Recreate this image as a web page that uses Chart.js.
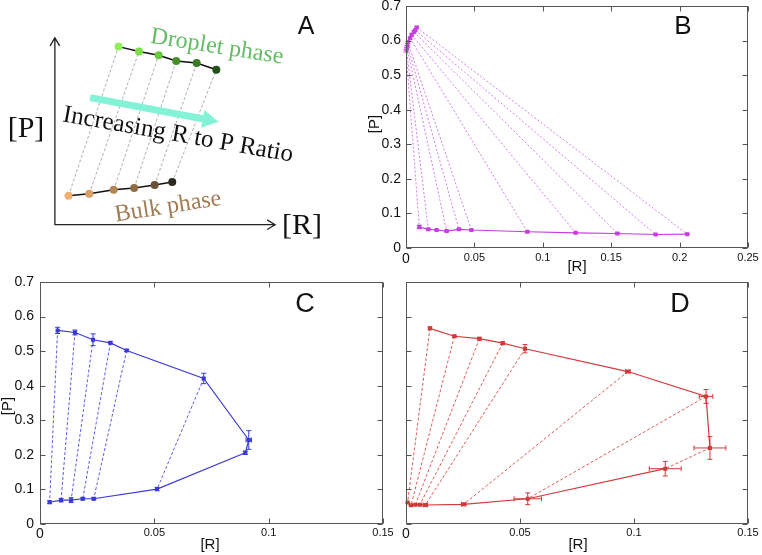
<!DOCTYPE html>
<html><head><meta charset="utf-8">
<script src="https://cdn.jsdelivr.net/npm/chart.js@4.4.1/dist/chart.umd.min.js"></script>
<style>
html,body{margin:0;padding:0;background:#fff;}
#wrap{position:relative;width:762px;height:555px;overflow:hidden;background:#fff;}
#wrap canvas{position:absolute;}
</style></head>
<body><div id="wrap">
<canvas id="cA"></canvas><canvas id="cB"></canvas><canvas id="cC"></canvas><canvas id="cD"></canvas>
</div>
<script>
// ================= DATA =================
// Panel A – schematic (arbitrary units, axes run 0..10)
const A_dropR = [2.89, 3.82, 4.71, 5.51, 6.44, 7.33];
const A_dropP = [9.53, 9.27, 9.07, 8.76, 8.65, 8.29];
const A_bulkR = [0.62, 1.56, 2.67, 3.60, 4.53, 5.33];
const A_bulkP = [1.55, 1.66, 1.87, 1.97, 2.12, 2.28];
const A_arrowR = [1.6, 7.0];
const A_arrowP = [6.8, 5.6];
const A_dropColors = ['#8ff05a', '#7ddd4a', '#66c83c', '#458f2d', '#3a7a26', '#254f1a'];
const A_bulkColors = ['#f0b070', '#d9a064', '#b28658', '#8f6c45', '#6a5238', '#2e2a22'];

// Panel B
const B_dropR = [0.0000, 0.0003, 0.0006, 0.0010, 0.0014, 0.0030, 0.0042, 0.0058, 0.0068, 0.0078];
const B_dropP = [0.570, 0.576, 0.582, 0.588, 0.595, 0.607, 0.617, 0.625, 0.630, 0.638];
const B_bulkR = [0.0097, 0.0163, 0.0224, 0.0297, 0.0387, 0.0478, 0.0887, 0.1240, 0.1545, 0.1825, 0.2056];
const B_bulkP = [0.061, 0.054, 0.052, 0.049, 0.054, 0.052, 0.047, 0.044, 0.042, 0.039, 0.040];
const B_bulkErr = [0.005, 0.002, 0.001, 0.002, 0.002, 0.001, 0.002, 0.001, 0.002, 0.001, 0.001];
const B_ties = [[0,0],[1,1],[2,3],[3,4],[4,5],[5,6],[6,7],[7,8],[8,9],[9,10]];

// Panel C
const C_dropR = [0.0077, 0.0153, 0.0232, 0.0308, 0.0379, 0.0716, 0.0913];
const C_dropP = [0.560, 0.554, 0.533, 0.524, 0.502, 0.421, 0.243];
const C_dropErrP = [0.009, 0.007, 0.017, 0.003, 0.003, 0.015, 0.027];
const C_dropErrR = [0, 0, 0, 0, 0, 0, 0.0012];
const C_bulkR = [0.0042, 0.0092, 0.0136, 0.0187, 0.0235, 0.0512, 0.0898];
const C_bulkP = [0.063, 0.069, 0.069, 0.073, 0.073, 0.101, 0.206];
const C_bulkErrP = [0.004, 0.005, 0.007, 0.003, 0.003, 0.005, 0.005];
const C_ties = [[0,0],[1,1],[2,2],[3,3],[4,4],[5,5]];

// Panel D
const D_dropR = [0.0105, 0.0212, 0.0322, 0.0424, 0.0522, 0.0973, 0.1316, 0.1333];
const D_dropP = [0.566, 0.543, 0.536, 0.523, 0.507, 0.441, 0.369, 0.220];
const D_dropErrP = [0.004, 0.003, 0.004, 0.004, 0.012, 0.003, 0.020, 0.033];
const D_dropErrR = [0, 0, 0, 0, 0, 0.001, 0.003, 0.007];
const D_bulkR = [0.0007, 0.0022, 0.0041, 0.0061, 0.0085, 0.0253, 0.0534, 0.1137];
const D_bulkP = [0.062, 0.054, 0.056, 0.056, 0.055, 0.057, 0.073, 0.160];
const D_bulkErrP = [0.002, 0.002, 0.002, 0.002, 0.003, 0.002, 0.017, 0.021];
const D_bulkErrR = [0, 0, 0, 0, 0.001, 0.001, 0.006, 0.007];
const D_ties = [[0,0],[1,1],[2,2],[3,3],[4,4],[5,5],[6,6],[7,7]];

// Tick settings
const R_TICKS_B = {min: 0, max: 0.25, step: 0.05};
const R_TICKS_CD = {min: 0, max: 0.15, step: 0.05};
const P_TICKS = {min: 0, max: 0.7, step: 0.1};

// ================= HELPERS =================
Chart.defaults.font.family = "'Liberation Sans', Arial, sans-serif";
Chart.defaults.animation = false;
const SANS = "'Liberation Sans', Arial, sans-serif";
const SERIF = "'Liberation Serif', 'Times New Roman', serif";

const pts = (R, P) => R.map((r, i) => ({x: r, y: P[i]}));
const fmt = v => String(+Number(v).toFixed(3));

function tieSets(dR, dP, bR, bP, pairs, color, dash, width) {
  return pairs.map(([d, b]) => ({
    data: [{x: dR[d], y: dP[d]}, {x: bR[b], y: bP[b]}],
    showLine: true, borderColor: color, borderWidth: width, borderDash: dash,
    pointRadius: 0, order: 5
  }));
}

const EXTRA = {};

const decor = {
  id: 'decor',
  afterDatasetsDraw(chart) {
    const ex = EXTRA[chart.canvas.id] || {};
    const ctx = chart.ctx, ca = chart.chartArea;
    const xs = chart.scales.x, ys = chart.scales.y;
    chart.data.datasets.forEach(ds => {
      if (ds.errY || ds.errX) {
        ctx.save();
        ctx.strokeStyle = ds.borderColor; ctx.lineWidth = 1;
        ds.data.forEach((p, j) => {
          const px = xs.getPixelForValue(p.x), py = ys.getPixelForValue(p.y);
          const ey = ds.errY ? ds.errY[j] : 0, exx = ds.errX ? ds.errX[j] : 0;
          const c = 2.5;
          ctx.beginPath();
          if (ey > 0) {
            const y1 = ys.getPixelForValue(p.y - ey), y2 = ys.getPixelForValue(p.y + ey);
            ctx.moveTo(px, y1); ctx.lineTo(px, y2);
            ctx.moveTo(px - c, y1); ctx.lineTo(px + c, y1);
            ctx.moveTo(px - c, y2); ctx.lineTo(px + c, y2);
          }
          if (exx > 0) {
            const x1 = xs.getPixelForValue(p.x - exx), x2 = xs.getPixelForValue(p.x + exx);
            ctx.moveTo(x1, py); ctx.lineTo(x2, py);
            ctx.moveTo(x1, py - c); ctx.lineTo(x1, py + c);
            ctx.moveTo(x2, py - c); ctx.lineTo(x2, py + c);
          }
          ctx.stroke();
        });
        ctx.restore();
      }
      if (ds.arrowHead) {
        const n = ds.data.length;
        const a = ds.data[n - 2], b = ds.data[n - 1];
        const x1 = xs.getPixelForValue(a.x), y1 = ys.getPixelForValue(a.y);
        const x2 = xs.getPixelForValue(b.x), y2 = ys.getPixelForValue(b.y);
        const ang = Math.atan2(y2 - y1, x2 - x1);
        const L = 16, W = 9;
        ctx.save();
        ctx.fillStyle = ds.borderColor;
        ctx.translate(x2, y2); ctx.rotate(ang);
        ctx.beginPath();
        ctx.moveTo(L * 0.6, 0); ctx.lineTo(-L * 0.4, -W); ctx.lineTo(-L * 0.4, W);
        ctx.closePath(); ctx.fill();
        ctx.restore();
      }
    });
    if (ex.frame) {
      ctx.save();
      ctx.strokeStyle = '#555'; ctx.lineWidth = 1;
      const l = Math.round(ca.left) + 0.5, r = Math.round(ca.right) - 0.5;
      const t = Math.round(ca.top) + 0.5, b = Math.round(ca.bottom) - 0.5;
      ctx.strokeRect(l, t, r - l, b - t);
      const tl = 5;
      ctx.beginPath();
      xs.ticks.forEach(tk => {
        const px = Math.round(xs.getPixelForValue(tk.value)) + 0.5;
        ctx.moveTo(px, b); ctx.lineTo(px, b - tl);
        ctx.moveTo(px, t); ctx.lineTo(px, t + tl);
      });
      ys.ticks.forEach(tk => {
        const py = Math.round(ys.getPixelForValue(tk.value)) + 0.5;
        ctx.moveTo(l, py); ctx.lineTo(l + tl, py);
        ctx.moveTo(r, py); ctx.lineTo(r - tl, py);
      });
      ctx.stroke();
      ctx.restore();
    }
    if (ex.axes) {
      const ox = xs.getPixelForValue(0), oy = ys.getPixelForValue(0);
      const xe = xs.getPixelForValue(ex.axes.end), ye = ys.getPixelForValue(ex.axes.end);
      ctx.save();
      ctx.strokeStyle = '#222'; ctx.lineWidth = 1.3;
      ctx.beginPath();
      ctx.moveTo(ox, ye); ctx.lineTo(ox, oy); ctx.lineTo(xe, oy);
      const h = 8;
      ctx.moveTo(xe - h, oy - h * 0.6); ctx.lineTo(xe, oy); ctx.lineTo(xe - h, oy + h * 0.6);
      ctx.moveTo(ox - h * 0.6, ye + h); ctx.lineTo(ox, ye); ctx.lineTo(ox + h * 0.6, ye + h);
      ctx.stroke();
      ctx.restore();
    }
  },
  afterDraw(chart) {
    const ex = EXTRA[chart.canvas.id] || {};
    const ctx = chart.ctx;
    (ex.texts || []).forEach(t => {
      ctx.save();
      ctx.font = t.font; ctx.fillStyle = t.color || '#111';
      ctx.textAlign = 'center'; ctx.textBaseline = 'middle';
      ctx.translate(t.x, t.y);
      if (t.rot) ctx.rotate(t.rot * Math.PI / 180);
      ctx.fillText(t.text, 0, 0);
      ctx.restore();
    });
  }
};
Chart.register(decor);

function xAxis(tk, h, pad, show) {
  return {
    type: 'linear', position: 'bottom', min: tk.min, max: tk.max,
    ticks: {
      stepSize: tk.step, display: show, padding: pad, color: '#111', maxRotation: 0, autoSkip: false,
      font: c => ({size: (c.tick && c.tick.value === 0) ? 14 : 11, family: SANS}),
      callback: fmt
    },
    grid: {display: false, drawTicks: false}, border: {display: false},
    afterFit: s => { s.height = h; s.paddingLeft = 0; s.paddingRight = 0; s.paddingTop = 0; s.paddingBottom = 0; }
  };
}
function yAxis(tk, w, pad, show) {
  return {
    type: 'linear', position: 'left', min: tk.min, max: tk.max,
    ticks: {stepSize: tk.step, display: show, padding: pad, color: '#111', autoSkip: false,
      font: {size: 14, family: SANS}, callback: fmt},
    grid: {display: false, drawTicks: false}, border: {display: false},
    afterFit: s => { s.width = w; s.paddingLeft = 0; s.paddingRight = 0; s.paddingTop = 0; s.paddingBottom = 0; }
  };
}

function place(id, left, top, w, h) {
  const c = document.getElementById(id);
  c.width = w; c.height = h;
  c.style.left = left + 'px'; c.style.top = top + 'px';
  c.style.width = w + 'px'; c.style.height = h + 'px';
  return c;
}

// ================= PANEL A =================
(function () {
  const c = place('cA', 0, 0, 380, 250);
  EXTRA.cA = {
    axes: {end: 10},
    texts: [
      {text: 'A', x: 306, y: 27, font: '25px ' + SANS, color: '#111'},
      {text: '[P]', x: 26, y: 129, font: '30px ' + SERIF, color: '#111'},
      {text: '[R]', x: 302, y: 226, font: '30px ' + SERIF, color: '#111'},
      {text: 'Droplet phase', x: 217, y: 47, rot: 9, font: '24px ' + SERIF, color: '#66bb66'},
      {text: 'Increasing R to P Ratio', x: 178, y: 135, rot: 10, font: '25px ' + SERIF, color: '#111'},
      {text: 'Bulk phase', x: 168, y: 207, rot: -9, font: '24px ' + SERIF, color: '#a07d55'}
    ]
  };
  const datasets = [
    {data: pts(A_dropR, A_dropP), showLine: true, borderColor: '#111', borderWidth: 1.5,
     pointRadius: 4, pointBorderWidth: 0, pointBackgroundColor: A_dropColors, order: 0},
    {data: pts(A_bulkR, A_bulkP), showLine: true, borderColor: '#111', borderWidth: 1.5,
     pointRadius: 4, pointBorderWidth: 0, pointBackgroundColor: A_bulkColors, order: 0},
    {data: pts(A_arrowR, A_arrowP), showLine: true, borderColor: '#84f2d6', borderWidth: 7,
     pointRadius: 0, arrowHead: true, order: 3},
    ...A_dropR.map((r, i) => ({
      data: [{x: A_bulkR[i], y: A_bulkP[i]}, {x: r, y: A_dropP[i]}],
      showLine: true, borderColor: '#9a9a9a', borderWidth: 0.8, borderDash: [3, 2],
      pointRadius: 0, order: 5
    }))
  ];
  new Chart(c, {
    type: 'scatter',
    data: {datasets},
    options: {
      responsive: false, animation: false,
      layout: {padding: 0},
      plugins: {legend: {display: false}, tooltip: {enabled: false}},
      scales: {
        x: {type: 'linear', display: false, min: -2.31, max: 14.58},
        y: {type: 'linear', display: false, min: -1.14, max: 11.81}
      }
    }
  });
})();

// ================= PANEL B =================
(function () {
  const col = '#c63fe0', tcol = '#d47aea';
  const c = place('cB', 364, 0, 398, 278);
  EXTRA.cB = {
    frame: true,
    texts: [
      {text: 'B', x: 319, y: 27, font: '26px ' + SANS, color: '#111'},
      {text: '[R]', x: 213, y: 267, font: '15px ' + SANS, color: '#111'},
      {text: '[P]', x: 11, y: 124, rot: -90, font: '15px ' + SANS, color: '#111'}
    ]
  };
  const datasets = [
    {data: pts(B_dropR, B_dropP), showLine: true, borderColor: col, backgroundColor: col, borderWidth: 1.2,
     pointStyle: 'rect', pointRadius: 2, errY: B_dropR.map(() => 0.003), order: 0},
    {data: pts(B_bulkR, B_bulkP), showLine: true, borderColor: col, backgroundColor: col, borderWidth: 1.2,
     pointStyle: 'rect', pointRadius: 2, errY: B_bulkErr, order: 0},
    ...tieSets(B_dropR, B_dropP, B_bulkR, B_bulkP, B_ties, tcol, [2, 2], 1)
  ];
  new Chart(c, {
    type: 'scatter',
    data: {datasets},
    options: {
      responsive: false, animation: false,
      layout: {padding: {left: 0, top: 6, right: 14, bottom: 0}},
      plugins: {legend: {display: false}, tooltip: {enabled: false}},
      scales: {x: xAxis(R_TICKS_B, 30, 3, true), y: yAxis(P_TICKS, 42, 5, true)}
    }
  });
})();

// ================= PANEL C =================
(function () {
  const col = '#3a3ad6', tcol = '#5c5ce2';
  const c = place('cC', 0, 272, 405, 283);
  EXTRA.cC = {
    frame: true,
    texts: [
      {text: 'C', x: 305, y: 33, font: '27px ' + SANS, color: '#111'},
      {text: '[R]', x: 210, y: 273, font: '15px ' + SANS, color: '#111'},
      {text: '[P]', x: 8, y: 134, rot: -90, font: '15px ' + SANS, color: '#111'}
    ]
  };
  const n = C_bulkR.length - 1, m = C_dropR.length - 1;
  const datasets = [
    {data: pts(C_dropR, C_dropP), showLine: true, borderColor: col, backgroundColor: col, borderWidth: 1.2,
     pointStyle: 'rect', pointRadius: 2, errY: C_dropErrP, errX: C_dropErrR, order: 0},
    {data: pts(C_bulkR, C_bulkP), showLine: true, borderColor: col, backgroundColor: col, borderWidth: 1.2,
     pointStyle: 'rect', pointRadius: 2, errY: C_bulkErrP, order: 0},
    {data: [{x: C_bulkR[n], y: C_bulkP[n]}, {x: C_dropR[m], y: C_dropP[m]}], showLine: true,
     borderColor: col, borderWidth: 1.2, pointRadius: 0, order: 0},
    ...tieSets(C_dropR, C_dropP, C_bulkR, C_bulkP, C_ties, tcol, [3, 2], 1)
  ];
  new Chart(c, {
    type: 'scatter',
    data: {datasets},
    options: {
      responsive: false, animation: false,
      layout: {padding: {left: 0, top: 10, right: 22, bottom: 0}},
      plugins: {legend: {display: false}, tooltip: {enabled: false}},
      scales: {x: xAxis(R_TICKS_CD, 31, 2, true), y: yAxis(P_TICKS, 40, 6, true)}
    }
  });
})();

// ================= PANEL D =================
(function () {
  const col = '#d23a3a', tcol = '#de5c5c';
  const c = place('cD', 392, 272, 370, 283);
  EXTRA.cD = {
    frame: true,
    texts: [
      {text: 'D', x: 288, y: 33, font: '27px ' + SANS, color: '#111'},
      {text: '[R]', x: 186, y: 273, font: '15px ' + SANS, color: '#111'}
    ]
  };
  const datasets = [
    {data: pts(D_dropR, D_dropP), showLine: true, borderColor: col, backgroundColor: col, borderWidth: 1.2,
     pointStyle: 'rect', pointRadius: 2, errY: D_dropErrP, errX: D_dropErrR, order: 0},
    {data: pts(D_bulkR, D_bulkP), showLine: true, borderColor: col, backgroundColor: col, borderWidth: 1.2,
     pointStyle: 'rect', pointRadius: 2, errY: D_bulkErrP, errX: D_bulkErrR, order: 0},
    ...tieSets(D_dropR, D_dropP, D_bulkR, D_bulkP, D_ties, tcol, [3, 2], 1)
  ];
  new Chart(c, {
    type: 'scatter',
    data: {datasets},
    options: {
      responsive: false, animation: false,
      layout: {padding: {left: 0, top: 10, right: 14, bottom: 0}},
      plugins: {legend: {display: false}, tooltip: {enabled: false}},
      scales: {x: xAxis(R_TICKS_CD, 31, 2, true), y: yAxis(P_TICKS, 14, 6, false)}
    }
  });
})();
</script>
</body></html>
